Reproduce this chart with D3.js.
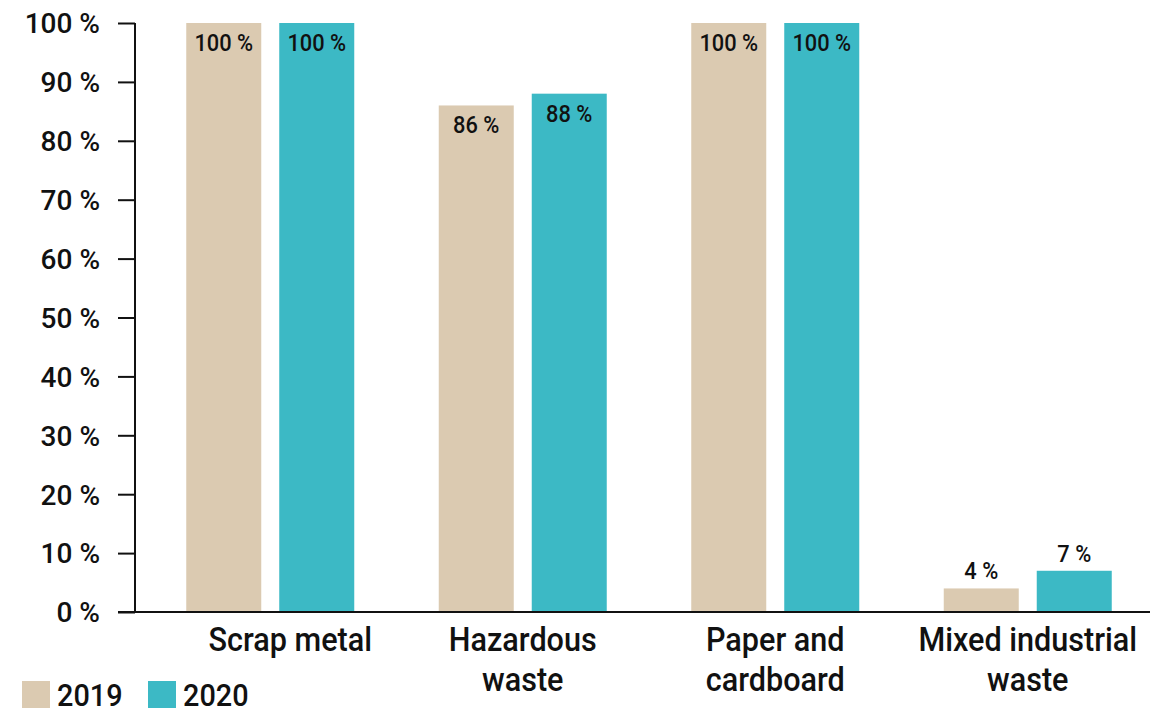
<!DOCTYPE html>
<html>
<head>
<meta charset="utf-8">
<script src="https://cdn.jsdelivr.net/npm/d3@7"></script>
<style>
  html, body { margin: 0; padding: 0; background: #fff; }
  svg { display: block; }
  text { font-family: Roboto, "Liberation Sans", sans-serif; font-weight: 500; fill: #111; }
</style>
</head>
<body>
<svg id="chart" width="1170" height="714"></svg>
<script>
// Share of waste recycled, by waste type
const categories = ["Scrap metal", "Hazardous waste", "Paper and cardboard", "Mixed industrial waste"];
const categoryLines = [["Scrap metal"], ["Hazardous", "waste"], ["Paper and", "cardboard"], ["Mixed industrial", "waste"]];
const years = ["2019", "2020"];
const values2019 = [100, 86, 100, 4];
const values2020 = [100, 88, 100, 7];
const yTicks = [0, 10, 20, 30, 40, 50, 60, 70, 80, 90, 100];
const colors = ["#dbcab1", "#3cb9c5"];

// The single-line label sits a little to the right of its bar pair
const labelNudge = { "Scrap metal": 20 };
// Horizontal squeeze that gives Roboto a condensed look
const squeeze = 0.9;

const svg = d3.select("#chart");

const y = d3.scaleLinear().domain([0, 100]).range([612, 23]);
const x0 = d3.scaleBand().domain(categories).range([144, 1154]);
const x1 = d3.scaleBand().domain(years).range([0, 168]).paddingInner(0.1935);

const series = [values2019, values2020];
const rows = categories.map((c, i) => ({
  category: c,
  lines: categoryLines[i],
  bars: years.map((yr, j) => ({ year: yr, value: series[j][i], color: colors[j] }))
}));

const groupOffset = (x0.bandwidth() - 168) / 2;

// Bars and value labels
const groups = svg.append("g").selectAll("g").data(rows).join("g")
  .attr("transform", d => `translate(${x0(d.category) + groupOffset},0)`);

groups.selectAll("rect").data(d => d.bars).join("rect")
  .attr("x", d => x1(d.year))
  .attr("y", d => y(d.value))
  .attr("width", x1.bandwidth())
  .attr("height", d => y(0) - y(d.value))
  .attr("fill", d => d.color);

groups.selectAll("text.val").data(d => d.bars).join("text")
  .attr("class", "val")
  .attr("transform", d => `translate(${x1(d.year) + x1.bandwidth() / 2},${d.value > 20 ? y(d.value) + 28 : y(d.value) - 9}) scale(0.95,1)`)
  .attr("text-anchor", "middle")
  .style("font-size", "23px")
  .text(d => `${d.value} %`);

// Y axis
const yAxis = d3.axisLeft(y).tickValues(yTicks).tickSize(17).tickPadding(18)
  .tickFormat(d => `${d} %`);
const gy = svg.append("g").attr("transform", "translate(135,0)").call(yAxis);
gy.select(".domain").attr("stroke", "#111").attr("stroke-width", 2).attr("d", `M0,${y(100)}V${y(0)}`);
gy.selectAll(".tick line").attr("stroke", "#111").attr("stroke-width", 2);
gy.selectAll(".tick text").style("font-size", "28px").attr("dy", "0.35em").style("fill", "#111")
  .style("font-family", "Roboto, 'Liberation Sans', sans-serif");

// Baseline
svg.append("line")
  .attr("x1", 118).attr("x2", 1150)
  .attr("y1", y(0)).attr("y2", y(0))
  .attr("stroke", "#111").attr("stroke-width", 2);

// Category labels
const cats = svg.append("g").selectAll("text").data(rows).join("text")
  .attr("transform", d => `translate(${x0(d.category) + x0.bandwidth() / 2 + (labelNudge[d.category] || 0)},651) scale(${squeeze},1)`)
  .attr("text-anchor", "middle")
  .style("font-size", "34px");
cats.selectAll("tspan").data(d => d.lines).join("tspan")
  .attr("x", 0)
  .attr("dy", (d, i) => i === 0 ? 0 : 40)
  .text(d => d);

// Legend
const legend = svg.append("g").selectAll("g").data(years).join("g")
  .attr("transform", (d, i) => `translate(${22 + i * 126},681)`);
legend.append("rect").attr("width", 28).attr("height", 27).attr("fill", (d, i) => colors[i]);
legend.append("text").attr("transform", "translate(35,25) scale(0.93,1)").style("font-size", "31px").text(d => d);
</script>
</body>
</html>
